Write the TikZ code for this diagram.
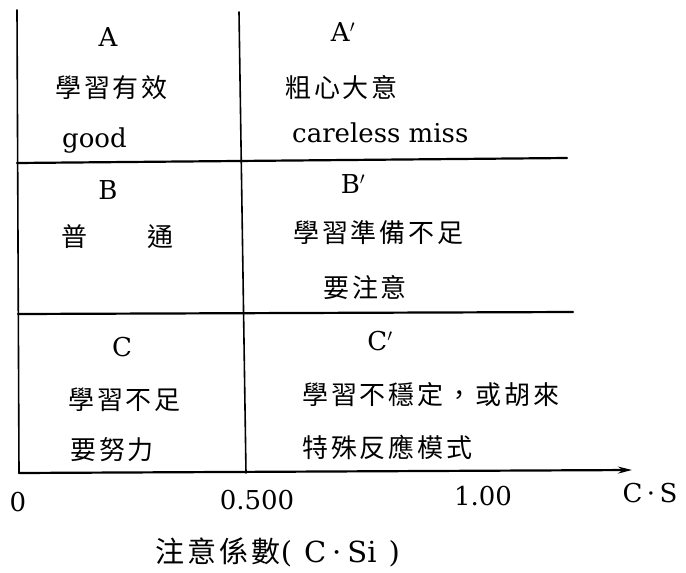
\documentclass[tikz,border=0pt]{standalone}
\usepackage{fontspec}
\setmainfont{DejaVu Serif}
\newfontfamily\cjk[LetterSpace=11]{Noto Sans CJK TC}
\usetikzlibrary{arrows.meta}
\tikzset{
  lat/.style={font=\fontsize{26}{30}\selectfont, inner sep=0pt},
  cj/.style={font=\cjk\fontsize{26}{30}\selectfont, inner sep=0pt},
  rule/.style={line width=2.2pt, line cap=round},
  vrule/.style={line width=1.6pt, line cap=round},
}
\begin{document}
\begin{tikzpicture}[x=1pt,y=-1pt]
\fill[white] (0,0) rectangle (686,573);
\useasboundingbox (0,0) rectangle (686,573);
% frame coordinates
\coordinate (tl) at (17,10);
\coordinate (bl) at (19,473);
\coordinate (mt) at (239,12);
\coordinate (mb) at (246,473);
\coordinate (l1a) at (17,163);
\coordinate (l1b) at (567,158);
\coordinate (l2a) at (18,314);
\coordinate (l2b) at (573,312);
\coordinate (ax1) at (632,470);
\draw[vrule] (tl) -- (bl);
\draw[vrule] (mt) -- (mb);
\draw[rule] (l1a) -- (l1b);
\draw[rule] (l2a) -- (l2b);
\draw[rule, -{Stealth[length=14pt,width=7pt]}] (bl) -- (ax1);
% row A
\node[lat] (A) at (108,37) {A};
\node[cj, anchor=west] (A1) at (55,88) {學習有效};
\node[lat, anchor=base west] (A2) at (62,147) {good};
\node[lat] (Ap) at (343,32) {A$'$};
\node[cj, anchor=west] (Ap1) at (285,88) {粗心大意};
\node[lat, anchor=base west] (Ap2) at (292,142) {careless miss};
% row B
\node[lat] (B) at (108,190) {B};
\node[cj, anchor=west] (B1) at (61,237) {普\hspace{60pt}通};
\node[lat] (Bp) at (353,184) {B$'$};
\node[cj, anchor=west] (Bp1) at (293,233) {學習準備不足};
\node[cj, anchor=west] (Bp2) at (323,287) {要注意};
% row C
\node[lat] (C) at (122,347) {C};
\node[cj, anchor=west] (C1) at (68,400) {學習不足};
\node[cj, anchor=west] (C2) at (70,450) {要努力};
\node[lat] (Cp) at (380,341) {C$'$};
\node[cj, anchor=west] (Cp1) at (302,395) {學習不穩定，或胡來};
\node[cj, anchor=west] (Cp2) at (302,447) {特殊反應模式};
% axis labels
\node[lat] (t0) at (18,502) {0};
\node[lat] (t5) at (257,500) {0.500};
\node[lat] (t10) at (483,496) {1.00};
\node[lat] (cs) at (650,493) {C\,·\,S};
\node[lat, anchor=west, font=\fontsize{29}{33}\selectfont] (xl) at (155,552) {{\cjk 注意係數}(\hspace{12pt}C\hspace{6pt}·\hspace{6pt}Si\hspace{12pt})};
\end{tikzpicture}
\end{document}
